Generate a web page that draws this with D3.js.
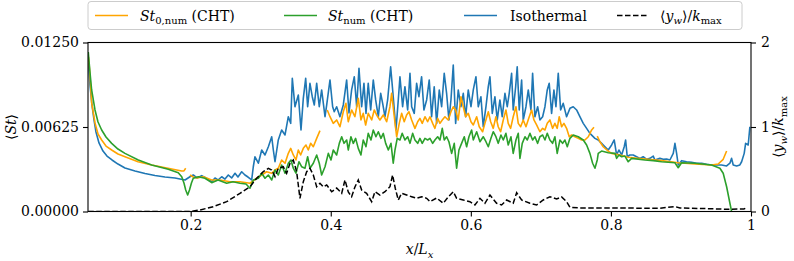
<!DOCTYPE html>
<html><head><meta charset="utf-8">
<script src="https://cdn.jsdelivr.net/npm/d3@7"></script>
<style>
html,body{margin:0;padding:0;background:#fff;}
svg{display:block;}
</style></head><body>
<svg id="chart" width="794" height="261"></svg>
<script>
// ---------- data ----------
const xTicks = [0.2, 0.4, 0.6, 0.8, 1];
const xTickLabels = ["0.2", "0.4", "0.6", "0.8", "1"];
const stTicks = [0, 0.00625, 0.0125];
const stTickLabels = ["0.00000", "0.00625", "0.01250"];
const kTicks = [0, 1, 2];
const kTickLabels = ["0", "1", "2"];

const isothermal = [
[0.0541,0.01098],[0.0562,0.00936],[0.0591,0.00788],[0.0620,0.00677],[0.0648,0.00588],[0.0691,0.00507],[0.0748,0.00447],[0.0805,0.00410],[0.0877,0.00381],[0.0962,0.00351],[0.1062,0.00322],[0.1205,0.00300],[0.1348,0.00281],[0.1490,0.00266],[0.1633,0.00255],[0.1776,0.00248],[0.1919,0.00233],
[0.1990,0.00257],[0.2037,0.00270],[0.2090,0.00248],[0.2157,0.00265],[0.2219,0.00248],[0.2300,0.00220],[0.2347,0.00248],[0.2390,0.00233],[0.2443,0.00257],[0.2490,0.00240],[0.2537,0.00270],[0.2585,0.00248],[0.2633,0.00283],[0.2675,0.00255],[0.2728,0.00294],[0.2775,0.00270],[0.2818,0.00255],[0.2871,0.00233],[0.2894,0.00331],[0.2918,0.00405],
[0.2966,0.00357],[0.3014,0.00455],[0.3061,0.00418],[0.3109,0.00479],[0.3157,0.00553],[0.3180,0.00455],[0.3204,0.00368],[0.3251,0.00529],[0.3299,0.00603],[0.3347,0.00566],[0.3394,0.00701],[0.3428,0.00652],[0.3451,0.00985],[0.3489,0.00775],[0.3537,0.00862],[0.3575,0.00603],[0.3608,0.00837],[0.3642,0.00985],[0.3670,0.00775],[0.3703,0.00948],[0.3736,0.00849],[0.3765,0.00788],[0.3799,0.00948],[0.3836,0.00775],[0.3870,0.00899],[0.3918,0.00701],[0.3942,0.00788],[0.3989,0.00973],[0.4027,0.00775],[0.4050,0.00738],[0.4084,0.00775],[0.4131,0.00701],[0.4179,0.00788],[0.4227,0.00973],
[0.4260,0.00729],[0.4298,0.00899],[0.4336,0.00997],[0.4370,0.00775],[0.4403,0.01059],[0.4441,0.00775],[0.4474,0.00948],[0.4503,0.00726],[0.4535,0.00948],[0.4570,0.00751],[0.4607,0.00973],[0.4641,0.00825],[0.4679,0.00701],[0.4713,0.00874],[0.4741,0.00800],[0.4774,0.00701],[0.4812,0.00825],[0.4855,0.01071],[0.4892,0.00849],[0.4931,0.00603],[0.4964,0.00825],[0.4988,0.00997],[0.5026,0.00775],[0.5059,0.00923],[0.5098,0.00751],[0.5131,0.01022],[0.5155,0.00775],[0.5192,0.00726],[0.5226,0.00948],[0.5259,0.00849],[0.5297,0.00997],[0.5330,0.00751],[0.5369,0.00825],[0.5406,0.00973],[0.5440,0.00701],[0.5477,0.00923],[0.5512,0.00652],[0.5549,0.00899],[0.5583,0.00775],[0.5620,0.01022],[0.5654,0.00874],[0.5687,0.00677],[0.5716,0.00825],[0.5749,0.01084],[0.5783,0.00652],[0.5820,0.00899],[0.5859,0.00775],[0.5892,0.00874],[0.5926,0.00701],[0.5963,0.00899],[0.6002,0.00775],
[0.6035,0.00899],[0.6073,0.00997],[0.6106,0.00775],[0.6144,0.00849],[0.6177,0.00627],[0.6216,0.00775],[0.6249,0.00923],[0.6273,0.00997],[0.6306,0.00726],[0.6344,0.00849],[0.6377,0.00677],[0.6415,0.00825],[0.6448,0.00701],[0.6487,0.00874],[0.6520,0.00775],[0.6548,0.00874],[0.6582,0.01022],[0.6605,0.00751],[0.6640,0.00923],[0.6662,0.01071],[0.6691,0.00751],[0.6725,0.00973],[0.6748,0.00677],[0.6787,0.00775],[0.6820,0.00899],[0.6858,0.00751],[0.6882,0.01022],[0.6915,0.00701],[0.6954,0.00775],[0.6986,0.00677],[0.7025,0.00701],[0.7058,0.00775],[0.7091,0.00899],[0.7119,0.00948],[0.7153,0.00726],[0.7186,0.00899],[0.7215,0.00775],[0.7248,0.01022],[0.7282,0.00751],[0.7319,0.00800],[0.7367,0.00701],[0.7415,0.00763],[0.7462,0.00775],[0.7510,0.00751],[0.7557,0.00701],[0.7605,0.00652],[0.7653,0.00615],[0.7700,0.00578],[0.7772,0.00541],
[0.7819,0.00529],[0.7867,0.00504],[0.7915,0.00479],[0.7962,0.00455],[0.8010,0.00492],[0.8047,0.00529],[0.8081,0.00418],[0.8114,0.00455],[0.8153,0.00418],[0.8190,0.00479],[0.8210,0.00529],[0.8233,0.00405],[0.8271,0.00418],[0.8318,0.00418],[0.8367,0.00405],[0.8414,0.00393],[0.8461,0.00405],[0.8510,0.00386],[0.8557,0.00393],[0.8604,0.00410],[0.8628,0.00381],[0.8699,0.00393],[0.8747,0.00386],[0.8795,0.00388],[0.8842,0.00381],[0.8890,0.00430],[0.8914,0.00504],[0.8938,0.00430],[0.8961,0.00344],[0.9009,0.00376],[0.9080,0.00368],[0.9152,0.00364],[0.9223,0.00357],[0.9295,0.00357],[0.9366,0.00349],[0.9437,0.00344],[0.9509,0.00344],[0.9580,0.00344],[0.9652,0.00337],[0.9699,0.00357],[0.9723,0.00393],[0.9746,0.00344],[0.9795,0.00337],[0.9841,0.00344],[0.9866,0.00368],[0.9903,0.00430],[0.9923,0.00504],[0.9960,0.00492],[0.9984,0.00627]
];

const st0Num = [
[0.0541,0.01143],[0.0562,0.01010],[0.0586,0.00803],[0.0634,0.00655],[0.0677,0.00573],[0.0729,0.00529],[0.0791,0.00484],[0.0872,0.00455],[0.0962,0.00425],[0.1062,0.00405],[0.1248,0.00368],[0.1443,0.00344],[0.1676,0.00320],[0.1872,0.00300],[0.1904,0.00300],[0.1929,0.00320],
[0.1960,null],
[0.1990,0.00270],[0.2037,0.00255],[0.2090,0.00248],[0.2180,0.00257],[0.2300,0.00233],[0.2418,0.00233],[0.2561,0.00220],[0.2704,0.00220],[0.2847,0.00209],[0.2942,0.00246],[0.3014,0.00270],[0.3085,0.00294],[0.3157,0.00283],[0.3204,0.00307],[0.3251,0.00320],[0.3299,0.00381],[0.3347,0.00357],[0.3394,0.00430],[0.3428,0.00467],[0.3465,0.00418],[0.3503,0.00381],[0.3537,0.00455],[0.3570,0.00418],[0.3608,0.00467],[0.3646,0.00492],[0.3679,0.00455],[0.3713,0.00504],[0.3751,0.00479],[0.3799,0.00541],[0.3846,0.00598],
[0.3900,null],
[0.3950,0.00751],[0.3989,0.00701],[0.4036,0.00652],[0.4084,0.00677],[0.4131,0.00627],[0.4179,0.00738],[0.4217,0.00800],[0.4250,0.00664],[0.4298,0.00751],[0.4345,0.00701],[0.4393,0.00837],[0.4431,0.00677],[0.4464,0.00726],[0.4498,0.00640],[0.4535,0.00726],[0.4584,0.00677],[0.4621,0.00751],[0.4655,0.00714],[0.4702,0.00677],[0.4750,0.00714],[0.4798,0.00664],[0.4845,0.00775],[0.4869,0.00874],[0.4907,0.00701],[0.4941,0.00553],[0.4978,0.00652],[0.5012,0.00726],[0.5049,0.00664],[0.5083,0.00714],[0.5116,0.00738],[0.5155,0.00677],[0.5202,0.00615],[0.5241,0.00664],[0.5273,0.00689],[0.5306,0.00652],[0.5345,0.00701],[0.5383,0.00664],[0.5416,0.00701],[0.5455,0.00652],[0.5487,0.00615],[0.5526,0.00689],[0.5559,0.00652],[0.5592,0.00677],[0.5630,0.00701],[0.5677,0.00677],[0.5716,0.00738],[0.5749,0.00775],[0.5783,0.00751],[0.5820,0.00677],[0.5859,0.00849],[0.5892,0.00775],[0.5926,0.00701],[0.5963,0.00726],[0.6002,0.00664],
[0.6035,0.00640],[0.6083,0.00701],[0.6120,0.00627],[0.6168,0.00590],[0.6201,0.00652],[0.6249,0.00738],[0.6283,0.00664],[0.6320,0.00615],[0.6358,0.00701],[0.6391,0.00627],[0.6425,0.00590],[0.6463,0.00677],[0.6501,0.00751],[0.6534,0.00652],[0.6568,0.00615],[0.6605,0.00701],[0.6644,0.00775],[0.6677,0.00652],[0.6711,0.00627],[0.6748,0.00677],[0.6787,0.00627],[0.6834,0.00701],[0.6868,0.00751],[0.6901,0.00677],[0.6939,0.00640],[0.6986,0.00590],[0.7025,0.00615],[0.7058,0.00603],[0.7091,0.00652],[0.7129,0.00677],[0.7167,0.00615],[0.7200,0.00652],[0.7233,0.00615],[0.7262,0.00701],[0.7296,0.00627],[0.7329,0.00652],[0.7367,0.00615],[0.7405,0.00553],[0.7439,0.00566],[0.7486,0.00553],[0.7534,0.00541],[0.7582,0.00529],[0.7629,0.00529],[0.7677,0.00553],[0.7725,0.00603],[0.7758,0.00623],
[0.7780,null],
[0.7805,0.00558],[0.7843,0.00516],[0.7890,0.00479],[0.7962,0.00447],[0.8010,0.00430],[0.8128,0.00418],[0.8247,0.00401],[0.8485,0.00388],[0.8723,0.00376],[0.8961,0.00361],[0.9199,0.00351],[0.9437,0.00344],[0.9532,0.00351],[0.9603,0.00386],[0.9652,0.00447]
];

const stNum = [
[0.0538,0.01180],[0.0562,0.01032],[0.0586,0.00899],[0.0634,0.00751],[0.0677,0.00662],[0.0729,0.00603],[0.0791,0.00551],[0.0872,0.00504],[0.0962,0.00462],[0.1062,0.00430],[0.1252,0.00381],[0.1443,0.00344],[0.1680,0.00312],[0.1823,0.00287],[0.1872,0.00257],[0.1904,0.00211],[0.1929,0.00159],[0.1957,0.00122],[0.1983,0.00159],[0.2011,0.00211],[0.2037,0.00246],[0.2109,0.00257],[0.2204,0.00246],[0.2300,0.00213],[0.2390,0.00233],[0.2514,0.00209],[0.2604,0.00220],[0.2704,0.00209],[0.2790,0.00203],[0.2847,0.00172],[0.2894,0.00233],
[0.2966,0.00246],[0.3014,0.00283],[0.3061,0.00246],[0.3109,0.00270],[0.3157,0.00233],[0.3204,0.00307],[0.3251,0.00270],[0.3299,0.00344],[0.3347,0.00283],[0.3394,0.00357],[0.3432,0.00381],[0.3465,0.00320],[0.3503,0.00283],[0.3546,0.00368],[0.3584,0.00331],[0.3632,0.00320],[0.3670,0.00405],[0.3703,0.00320],[0.3751,0.00357],[0.3799,0.00418],[0.3836,0.00357],[0.3870,0.00270],[0.3918,0.00331],[0.3965,0.00430],[0.4003,0.00381],[0.4036,0.00455],[0.4084,0.00418],[0.4122,0.00504],[0.4156,0.00553],[0.4189,0.00504],[0.4227,0.00529],
[0.4250,0.00455],[0.4288,0.00553],[0.4322,0.00504],[0.4355,0.00541],[0.4393,0.00467],[0.4431,0.00418],[0.4464,0.00529],[0.4503,0.00479],[0.4535,0.00578],[0.4574,0.00529],[0.4607,0.00603],[0.4645,0.00553],[0.4679,0.00590],[0.4717,0.00541],[0.4750,0.00578],[0.4784,0.00504],[0.4822,0.00455],[0.4860,0.00504],[0.4892,0.00357],[0.4917,0.00455],[0.4949,0.00541],[0.4988,0.00529],[0.5020,0.00578],[0.5059,0.00529],[0.5098,0.00553],[0.5131,0.00504],[0.5169,0.00578],[0.5202,0.00529],[0.5241,0.00504],[0.5273,0.00541],[0.5306,0.00504],[0.5345,0.00541],[0.5383,0.00529],[0.5416,0.00541],[0.5455,0.00504],[0.5487,0.00529],[0.5526,0.00553],[0.5559,0.00529],[0.5592,0.00615],[0.5620,0.00529],[0.5654,0.00553],[0.5687,0.00516],[0.5726,0.00430],[0.5763,0.00504],[0.5797,0.00320],[0.5830,0.00455],[0.5868,0.00504],[0.5906,0.00553],[0.5940,0.00479],[0.5973,0.00553],[0.6011,0.00603],
[0.6035,0.00529],[0.6083,0.00590],[0.6130,0.00516],[0.6177,0.00553],[0.6216,0.00516],[0.6249,0.00479],[0.6287,0.00541],[0.6320,0.00590],[0.6358,0.00553],[0.6391,0.00504],[0.6430,0.00566],[0.6463,0.00529],[0.6501,0.00578],[0.6534,0.00492],[0.6573,0.00553],[0.6605,0.00430],[0.6644,0.00529],[0.6677,0.00578],[0.6701,0.00393],[0.6734,0.00504],[0.6773,0.00553],[0.6806,0.00529],[0.6844,0.00578],[0.6882,0.00529],[0.6915,0.00553],[0.6954,0.00504],[0.6986,0.00553],[0.7025,0.00566],[0.7058,0.00529],[0.7091,0.00578],[0.7129,0.00529],[0.7167,0.00504],[0.7200,0.00553],[0.7233,0.00430],[0.7272,0.00529],[0.7310,0.00504],[0.7343,0.00529],[0.7377,0.00479],[0.7415,0.00541],[0.7462,0.00566],[0.7534,0.00553],[0.7605,0.00529],[0.7653,0.00492],[0.7700,0.00430],[0.7739,0.00357],[0.7772,0.00320],[0.7805,0.00381],[0.7819,0.00430],
[0.7867,0.00447],[0.7962,0.00435],[0.8058,0.00430],[0.8081,0.00393],[0.8114,0.00418],[0.8153,0.00405],[0.8200,0.00410],[0.8247,0.00368],[0.8295,0.00393],[0.8485,0.00381],[0.8604,0.00376],[0.8723,0.00368],[0.8914,0.00361],[0.8961,0.00324],[0.9009,0.00361],[0.9199,0.00357],[0.9437,0.00344],[0.9556,0.00320],[0.9603,0.00283],[0.9652,0.00183],[0.9699,0.00061],[0.9723,0.0]
];

const ywOverKmax = [
[0.0538,0],[0.1990,0],[0.2133,0.018],[0.2322,0.057],[0.2514,0.116],[0.2704,0.215],[0.2847,0.293],[0.2942,0.393],[0.3037,0.471],[0.3109,0.511],[0.3157,0.491],[0.3204,0.412],[0.3251,0.511],[0.3322,0.530],[0.3370,0.452],[0.3418,0.570],[0.3465,0.609],[0.3513,0.471],[0.3560,0.156],[0.3608,0.353],[0.3656,0.471],[0.3703,0.511],[0.3751,0.432],[0.3799,0.293],[0.3846,0.334],[0.3894,0.290],[0.3942,0.314],[0.4013,0.234],[0.4084,0.278],[0.4156,0.215],[0.4203,0.373],[0.4250,0.231],[0.4298,0.175],[0.4345,0.290],[0.4393,0.373],[0.4441,0.254],[0.4512,0.215],[0.4584,0.116],[0.4631,0.234],[0.4702,0.195],[0.4774,0.234],[0.4845,0.293],[0.4883,0.432],[0.4921,0.275],[0.4964,0.136],[0.5012,0.215],[0.5083,0.195],[0.5155,0.175],[0.5226,0.156],[0.5297,0.175],[0.5369,0.156],[0.5416,0.116],[0.5512,0.160],[0.5606,0.097],[0.5677,0.172],[0.5749,0.234],[0.5797,0.156],[0.5892,0.136],[0.5987,0.116],[0.6058,0.077],[0.6130,0.156],[0.6201,0.097],[0.6273,0.195],[0.6368,0.097],[0.6439,0.077],[0.6511,0.136],[0.6605,0.097],[0.6654,0.222],[0.6725,0.136],[0.6844,0.097],[0.6939,0.077],[0.7034,0.136],[0.7129,0.175],[0.7225,0.148],[0.7296,0.172],[0.7367,0.116],[0.7415,0.050],[0.7557,0.041],[0.7843,0.041],[0.8128,0.041],[0.8699,0.038],[0.8914,0.059],[0.8985,0.041],[0.9270,0.036],[0.9699,0.026],[0.9899,0.030],[0.9941,0.045]
];

// ---------- layout ----------
const FONT = "'DejaVu Serif', serif";
const m = {left: 88, right: 751, top: 42.5, bottom: 211.5};
const svg = d3.select("#chart");

const x = d3.scaleLinear().domain([0.0534, 1]).range([m.left, m.right]);
const yL = d3.scaleLinear().domain([0, 0.0125]).range([m.bottom, m.top]);
const yR = d3.scaleLinear().domain([0, 2]).range([m.bottom, m.top]);

svg.append("defs").append("clipPath").attr("id", "clip")
  .append("rect").attr("x", m.left).attr("y", m.top - 2)
  .attr("width", m.right - m.left).attr("height", m.bottom - m.top + 1.5);

const plot = svg.append("g").attr("clip-path", "url(#clip)");
const lineL = d3.line().defined(d => d[1] != null).x(d => x(d[0])).y(d => yL(d[1]));
const lineR = d3.line().x(d => x(d[0])).y(d => yR(d[1]));

plot.append("path").datum(isothermal).attr("d", lineL)
  .attr("fill", "none").attr("stroke", "#1f77b4").attr("stroke-width", 1.6).attr("stroke-linejoin", "round");
plot.append("path").datum(st0Num).attr("d", lineL)
  .attr("fill", "none").attr("stroke", "#ffa500").attr("stroke-width", 1.6).attr("stroke-linejoin", "round");
plot.append("path").datum(stNum).attr("d", lineL)
  .attr("fill", "none").attr("stroke", "#2ca02c").attr("stroke-width", 1.6).attr("stroke-linejoin", "round");
plot.append("path").datum(ywOverKmax).attr("d", lineR)
  .attr("fill", "none").attr("stroke", "#000").attr("stroke-width", 1.5)
  .attr("stroke-dasharray", "5.5,2.5");

// frame
svg.append("rect").attr("x", m.left).attr("y", m.top)
  .attr("width", m.right - m.left).attr("height", m.bottom - m.top)
  .attr("fill", "none").attr("stroke", "#000").attr("stroke-width", 1.1);

// axes
const fs = 14;
function styleAxis(g) {
  g.attr("font-family", null).attr("font-size", null);
  g.select(".domain").remove();
  g.selectAll(".tick line").attr("stroke", "#000").attr("stroke-width", 1.1);
  g.selectAll(".tick text").attr("font-size", fs);
}
svg.append("g").attr("transform", `translate(0,${m.bottom})`)
  .call(d3.axisBottom(x).tickValues(xTicks).tickFormat((d, i) => xTickLabels[i]).tickSize(5).tickPadding(4))
  .call(styleAxis);
svg.append("g").attr("transform", `translate(${m.left},0)`)
  .call(d3.axisLeft(yL).tickValues(stTicks).tickFormat((d, i) => stTickLabels[i]).tickSize(5).tickPadding(4))
  .call(styleAxis);
svg.append("g").attr("transform", `translate(${m.right},0)`)
  .call(d3.axisRight(yR).tickValues(kTicks).tickFormat((d, i) => kTickLabels[i]).tickSize(5).tickPadding(5))
  .call(styleAxis);

// axis labels
const xl = svg.append("text").attr("x", (m.left + m.right) / 2).attr("y", 254)
  .attr("text-anchor", "middle").attr("font-size", fs);
xl.append("tspan").attr("font-style", "italic").text("x");
xl.append("tspan").text("/");
xl.append("tspan").attr("font-style", "italic").text("L");
xl.append("tspan").attr("font-style", "italic").attr("font-size", 10).attr("dy", 3.5).text("x");

const yl = svg.append("text").attr("transform", `translate(16,${(m.top + m.bottom) / 2}) rotate(-90)`)
  .attr("text-anchor", "middle").attr("font-size", fs);
yl.append("tspan").text("⟨");
yl.append("tspan").attr("font-style", "italic").text("St");
yl.append("tspan").text("⟩");

const yr = svg.append("text").attr("transform", `translate(783,${(m.top + m.bottom) / 2}) rotate(-90)`)
  .attr("text-anchor", "middle").attr("font-size", fs);
yr.append("tspan").text("⟨");
yr.append("tspan").attr("font-style", "italic").text("y");
yr.append("tspan").attr("font-style", "italic").attr("font-size", 10).attr("dy", 3.5).text("w");
yr.append("tspan").attr("dy", -3.5).text("⟩/");
yr.append("tspan").attr("font-style", "italic").text("k");
yr.append("tspan").attr("font-size", 10).attr("dy", 3.5).text("max");

// legend
const leg = svg.append("g");
leg.append("rect").attr("x", 88).attr("y", 1.5).attr("width", 654).attr("height", 28)
  .attr("rx", 3).attr("fill", "#fff").attr("stroke", "#cccccc").attr("stroke-width", 1);
const legendItems = [
  {c: "#ffa500", dash: null, x0: 95, x1: 128, tx: 140, kind: "st0"},
  {c: "#2ca02c", dash: null, x0: 284, x1: 317, tx: 328, kind: "st"},
  {c: "#1f77b4", dash: null, x0: 464, x1: 497, tx: 510, kind: "iso"},
  {c: "#000", dash: "5.5,2.5", x0: 617, x1: 649, tx: 660, kind: "yw"}
];
const ly = 15.5;
const lfs = 14, lsub = 10;
legendItems.forEach(it => {
  const l = leg.append("line").attr("x1", it.x0).attr("x2", it.x1).attr("y1", ly).attr("y2", ly)
    .attr("stroke", it.c).attr("stroke-width", 1.6);
  if (it.dash) l.attr("stroke-dasharray", it.dash);
  const t = leg.append("text").attr("x", it.tx).attr("y", ly + 5).attr("font-size", lfs);
  if (it.kind === "st0") {
    t.append("tspan").attr("font-style", "italic").text("St");
    t.append("tspan").attr("font-size", lsub).attr("dy", 3).text("0,num");
    t.append("tspan").attr("dy", -3).text(" (CHT)");
  } else if (it.kind === "st") {
    t.append("tspan").attr("font-style", "italic").text("St");
    t.append("tspan").attr("font-size", lsub).attr("dy", 3).text("num");
    t.append("tspan").attr("dy", -3).text(" (CHT)");
  } else if (it.kind === "iso") {
    t.text("Isothermal");
  } else {
    t.append("tspan").text("⟨");
    t.append("tspan").attr("font-style", "italic").text("y");
    t.append("tspan").attr("font-style", "italic").attr("font-size", lsub).attr("dy", 3).text("w");
    t.append("tspan").attr("dy", -3).text("⟩/");
    t.append("tspan").attr("font-style", "italic").text("k");
    t.append("tspan").attr("font-size", lsub).attr("dy", 3).text("max");
  }
});

svg.selectAll("text").style("font-family", FONT).style("fill", "#000");
</script>
</body></html>
